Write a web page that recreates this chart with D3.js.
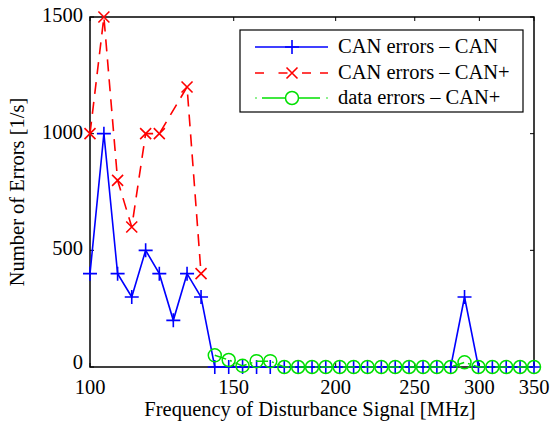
<!DOCTYPE html>
<html><head><meta charset="utf-8">
<script src="https://cdn.jsdelivr.net/npm/d3@7"></script>
<style>body{margin:0;background:#fff;} svg{display:block;} text{font-family:"Liberation Serif","Times New Roman",serif;}</style>
</head><body><svg id="c" width="550" height="421"></svg>
<script>
// Frequencies (MHz), log-spaced sweep points
const freqs = [100, 104.0, 108.1, 112.5, 117.0, 121.6, 126.5, 131.5, 136.8, 142.2, 147.9, 153.8, 160.0, 166.3, 173.0, 179.9, 187.1, 194.5, 202.3, 210.4, 218.8, 227.5, 236.6, 246.0, 255.9, 266.1, 276.7, 287.7, 299.2, 311.2, 323.6, 336.5, 350];
const canErrCAN = [400, 1000, 400, 300, 500, 400, 200, 400, 300, 0, 0, 0, 0, 0, 0, 0, 0, 0, 0, 0, 0, 0, 0, 0, 0, 0, 0, 300, 0, 0, 0, 0, 0];
// CAN+ series: index into freqs + value
const canPlusIdx = [0, 1, 2, 3, 4, 5, 7, 8];
const canErrCANPlus = [1000, 1500, 800, 600, 1000, 1000, 1200, 400];
const dataIdxStart = 9;
const dataErrCANPlus = [50, 30, 5, 25, 25, 0, 0, 0, 0, 0, 0, 0, 0, 0, 0, 0, 0, 0, 20, 0, 0, 0, 0, 0];
const xTicks = [100, 150, 200, 250, 300, 350];
const yTicks = [0, 500, 1000, 1500];
const seriesNames = ["CAN errors \u2013 CAN", "CAN errors \u2013 CAN+", "data errors \u2013 CAN+"];

const svg = d3.select("#c");
const L = 90, R = 534, T = 17, B = 367;
const x = d3.scaleLog().domain([100, 350]).range([L, R]);
const y = d3.scaleLinear().domain([0, 1500]).range([B, T]);
const fs = 20.5;

// axes box
svg.append("rect").attr("x", L).attr("y", T).attr("width", R - L).attr("height", B - T)
  .attr("fill", "none").attr("stroke", "#000").attr("stroke-width", 1.5);

// x ticks
const gx = svg.append("g");
xTicks.forEach(t => {
  gx.append("line").attr("x1", x(t)).attr("x2", x(t)).attr("y1", B).attr("y2", B - 4).attr("stroke", "#000");
  gx.append("line").attr("x1", x(t)).attr("x2", x(t)).attr("y1", T).attr("y2", T + 4).attr("stroke", "#000");
  gx.append("text").attr("x", x(t)).attr("y", B + 27).attr("text-anchor", "middle").attr("font-size", fs).text(t);
});
const gy = svg.append("g");
yTicks.forEach(t => {
  gy.append("line").attr("x1", L).attr("x2", L + 4).attr("y1", y(t)).attr("y2", y(t)).attr("stroke", "#000");
  gy.append("line").attr("x1", R).attr("x2", R - 4).attr("y1", y(t)).attr("y2", y(t)).attr("stroke", "#000");
  gy.append("text").attr("x", L - 7).attr("y", y(t) + (t === 0 ? 2 : 5)).attr("text-anchor", "end").attr("font-size", fs).text(t);
});
svg.append("text").attr("x", (L + R) / 2 - 2).attr("y", 416).attr("text-anchor", "middle").attr("font-size", fs)
  .text("Frequency of Disturbance Signal [MHz]");
svg.append("text").attr("transform", `translate(24,${(T + B) / 2}) rotate(-90)`).attr("text-anchor", "middle").attr("font-size", fs)
  .text("Number of Errors [1/s]");

const line = d3.line().x(d => x(d[0])).y(d => y(d[1]));
const blue = "#0000ff", red = "#ff0000", green = "#00e000";

function plusMarker(g, cx, cy, col) {
  g.append("path").attr("d", `M${cx - 7},${cy}H${cx + 7}M${cx},${cy - 7}V${cy + 7}`).attr("stroke", col).attr("stroke-width", 1.6).attr("fill", "none");
}
function xMarker(g, cx, cy, col) {
  const s = 5.5;
  g.append("path").attr("d", `M${cx - s},${cy - s}L${cx + s},${cy + s}M${cx - s},${cy + s}L${cx + s},${cy - s}`).attr("stroke", col).attr("stroke-width", 1.6).attr("fill", "none");
}
function oMarker(g, cx, cy, col) {
  g.append("circle").attr("cx", cx).attr("cy", cy).attr("r", 6.5).attr("stroke", col).attr("stroke-width", 1.5).attr("fill", "none");
}

// series 1
const s1 = freqs.map((f, i) => [f, canErrCAN[i]]);
const g1 = svg.append("g");
g1.append("path").attr("d", line(s1)).attr("stroke", blue).attr("stroke-width", 1.6).attr("fill", "none");
s1.forEach(d => plusMarker(g1, x(d[0]), y(d[1]), blue));

// series 2
const s2 = canPlusIdx.map((k, i) => [freqs[k], canErrCANPlus[i]]);
const g2 = svg.append("g");
g2.append("path").attr("d", line(s2)).attr("stroke", red).attr("stroke-width", 1.6).attr("fill", "none").attr("stroke-dasharray", "12,8");
s2.forEach(d => xMarker(g2, x(d[0]), y(d[1]), red));

// series 3
const s3 = dataErrCANPlus.map((v, i) => [freqs[dataIdxStart + i], v]);
const g3 = svg.append("g");
g3.append("path").attr("d", line(s3)).attr("stroke", green).attr("stroke-width", 1.5).attr("fill", "none").attr("stroke-dasharray", "12,4,2,4");
s3.forEach(d => oMarker(g3, x(d[0]), y(d[1]), green));

// legend
const lg = svg.append("g");
lg.append("rect").attr("x", 240).attr("y", 30).attr("width", 283).attr("height", 82).attr("fill", "#fff").attr("stroke", "#000").attr("stroke-width", 1.2);
const rows = [47, 73, 98];
const lx1 = 255, lx2 = 328, lm = 292;
lg.append("line").attr("x1", lx1).attr("x2", lx2).attr("y1", rows[0]).attr("y2", rows[0]).attr("stroke", blue).attr("stroke-width", 1.6);
plusMarker(lg, lm, rows[0], blue);
lg.append("line").attr("x1", lx1).attr("x2", lx2).attr("y1", rows[1]).attr("y2", rows[1]).attr("stroke", red).attr("stroke-width", 1.6).attr("stroke-dasharray", "9,14.5,9,14.5,9");
xMarker(lg, lm, rows[1], red);
lg.append("line").attr("x1", 262).attr("x2", 286).attr("y1", rows[2]).attr("y2", rows[2]).attr("stroke", green).attr("stroke-width", 1.5);
lg.append("line").attr("x1", 298).attr("x2", 320).attr("y1", rows[2]).attr("y2", rows[2]).attr("stroke", green).attr("stroke-width", 1.5);
lg.append("circle").attr("cx", 256).attr("cy", rows[2]).attr("r", 0.8).attr("fill", green);
lg.append("circle").attr("cx", 327).attr("cy", rows[2]).attr("r", 0.8).attr("fill", green);
oMarker(lg, lm, rows[2], green);
seriesNames.forEach((n, i) => {
  lg.append("text").attr("x", 338).attr("y", rows[i] + 6).attr("font-size", fs).text(n);
});
</script></body></html>
